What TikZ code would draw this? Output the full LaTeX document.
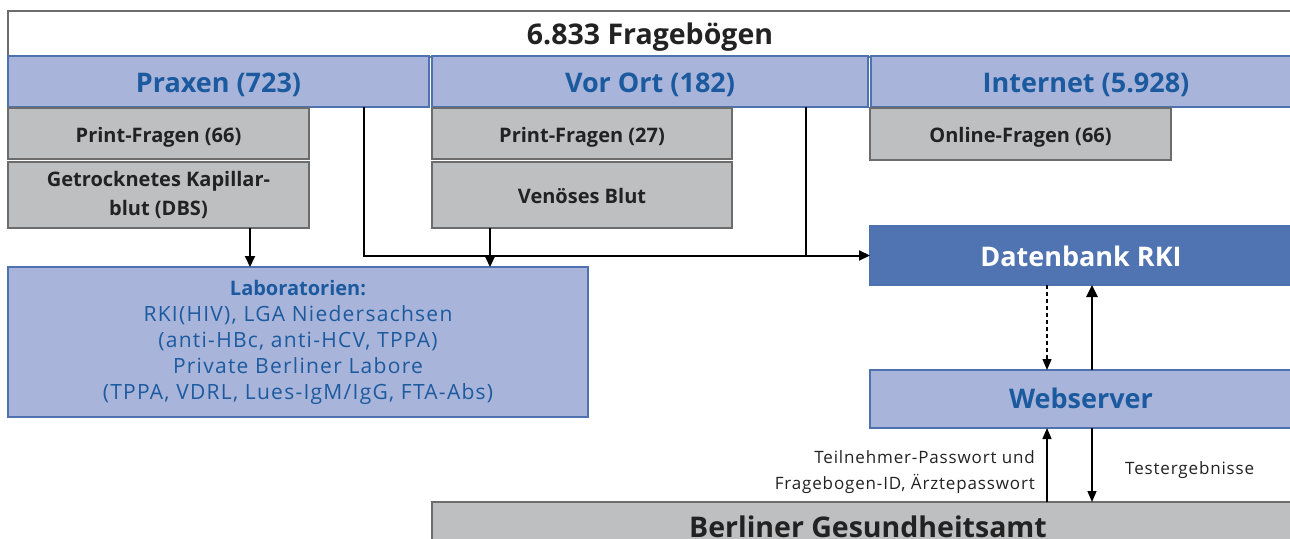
\documentclass[tikz,border=0pt]{standalone}
\usepackage{fontspec}
\setmainfont{Open Sans}
\usetikzlibrary{arrows.meta}
\definecolor{lightblue}{HTML}{A8B4D9}
\definecolor{edgeblue}{HTML}{4E72B0}
\definecolor{textblue}{HTML}{1C5AA0}
\definecolor{darkblue}{HTML}{5073B2}
\definecolor{boxgray}{HTML}{BEBFC1}
\definecolor{edgegray}{HTML}{6C6C6C}
\definecolor{inkgray}{HTML}{222222}
\tikzset{
  box/.style={rectangle, anchor=north west, inner sep=0pt, outer sep=0pt, align=center},
  bluebox/.style={box, fill=lightblue, draw=edgeblue, line width=2pt, text=textblue,
    font=\fontsize{27}{30}\selectfont\bfseries, text height=28.3pt, text depth=7pt},
  dbbox/.style={bluebox, fill=darkblue, text=white},
  graybox/.style={box, fill=boxgray, draw=edgegray, line width=2.5pt, text=inkgray,
    font=\fontsize{20}{28.5}\selectfont\bfseries},
  grayline/.style={graybox, text height=22.3pt, text depth=5pt},
  arr/.style={line width=2pt, -{Triangle[length=11pt,width=10pt]}},
  thinarr/.style={line width=1.4pt, -{Triangle[length=11pt,width=9pt]}},
  note/.style={inner sep=0pt, text=inkgray,
    font=\fontsize{17}{25.5}\selectfont\addfontfeature{LetterSpace=5}}
}
\begin{document}
\begin{tikzpicture}[x=1pt,y=-1pt]
\clip (0,0) rectangle (1290,538);
\fill[white] (0,0) rectangle (1290,538);

% heading frame
\node[box, draw=edgegray, line width=2.5pt, minimum width=1300, minimum height=46] (total) at (8,11) {};
\node[anchor=base, inner sep=0pt, font=\fontsize{28.5}{30}\selectfont\bfseries, text=inkgray] (totaltxt) at (650,44.7) {6.833 Fragebögen};

% channels
\node[bluebox, minimum width=421, minimum height=51] (praxen) at (8,56) {Praxen (723)};
\node[bluebox, minimum width=436, minimum height=51] (vorort) at (432,56) {Vor Ort (182)};
\node[bluebox, minimum width=430, minimum height=51] (internet) at (871,56) {Internet (5.928)};

% questionnaires and samples
\node[grayline, minimum width=301, minimum height=51] (printa) at (8,108) {Print-Fragen (66)};
\node[graybox, minimum width=301, minimum height=66] (dbs) at (8,162) {Getrocknetes Kapillar-\\blut (DBS)};
\node[grayline, minimum width=300, minimum height=51] (printb) at (432,108) {Print-Fragen (27)};
\node[grayline, minimum width=300, minimum height=66] (blut) at (432,162) {Venöses Blut};
\node[grayline, minimum width=301, minimum height=52] (online) at (870,108) {Online-Fragen (66)};

% laboratories
\node[box, fill=lightblue, draw=edgeblue, line width=2pt, text=textblue,
  minimum width=580, minimum height=150,
  font=\fontsize{21}{26}\selectfont\addfontfeature{LetterSpace=6}] (lab) at (8,267)
  {{\fontsize{20}{26}\selectfont\bfseries\addfontfeature{LetterSpace=0}Laboratorien:}\\RKI(HIV), LGA Niedersachsen\\(anti-HBc, anti-HCV, TPPA)\\Private Berliner Labore\\(TPPA, VDRL, Lues-IgM/IgG, FTA-Abs)};

% data flow
\node[dbbox, minimum width=430, minimum height=59] (db) at (870,226) {\hspace*{-8pt}Datenbank RKI};
\node[bluebox, minimum width=430, minimum height=58, text height=26.3pt] (web) at (870,370) {\hspace*{-8pt}Webserver};
\node[graybox, minimum width=870, minimum height=60, text height=17pt, text depth=7pt,
  font=\fontsize{28.5}{30}\selectfont\bfseries] (amt) at (432,502) {\hspace*{2pt}Berliner Gesundheitsamt};

% routing points
\coordinate (xa) at (250,0);
\coordinate (xp) at (364,0);
\coordinate (xb) at (490,0);
\coordinate (xv) at (806,0);
\coordinate (xl) at (1047,0);
\coordinate (xr) at (1092,0);

\draw[arr] (dbs.south -| xa) -- (lab.north -| xa);
\draw[arr] (blut.south -| xb) -- (lab.north -| xb);
\draw[arr] (praxen.south -| xp) |- (db.west);
\draw[line width=2pt] (vorort.south -| xv) -- (xv |- db.west);

\draw[line width=1.2pt, dash pattern=on 4pt off 3pt, -{Triangle[length=11pt,width=9pt]}] (db.south -| xl) -- (web.north -| xl);
\draw[line width=2.6pt, -{Triangle[length=12pt,width=11pt]}] (web.north -| xr) -- (db.south -| xr);
\draw[thinarr] (amt.north -| xl) -- (web.south -| xl);
\draw[thinarr] (web.south -| xr) -- (amt.north -| xr);

\node[note, anchor=east, align=right] (lbl1) at (1035,472) {Teilnehmer-Passwort und\\Fragebogen-ID, Ärztepasswort};
\node[note, anchor=west] (lbl2) at (1125,469.7) {Testergebnisse};
\end{tikzpicture}
\end{document}
